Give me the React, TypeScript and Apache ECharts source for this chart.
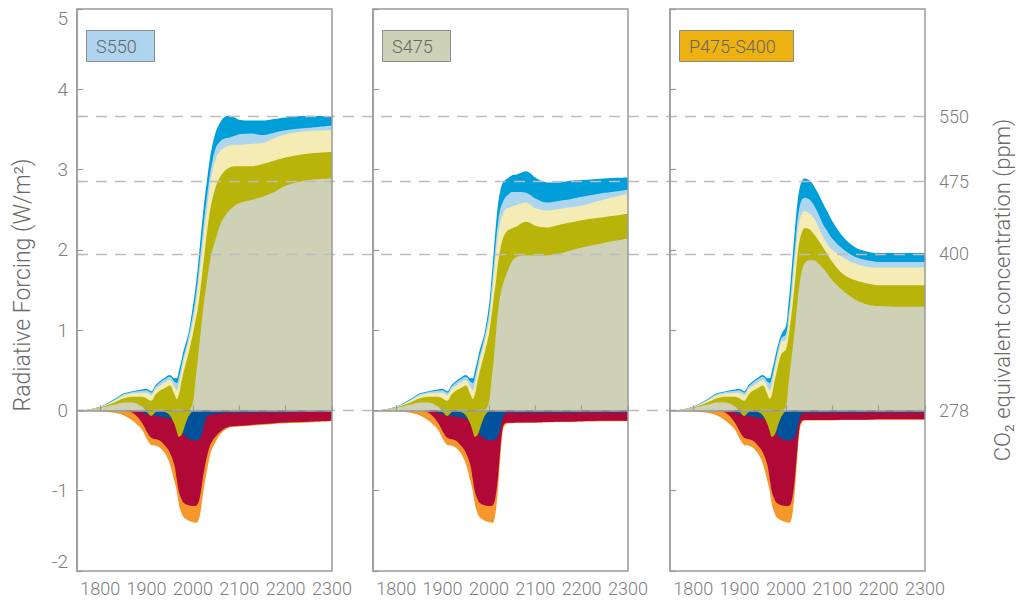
import React, { useEffect, useRef } from "react";
import * as echarts from "echarts";

// ---------- DATA ----------
const histYears = [1765, 1800, 1830, 1850, 1870, 1890, 1900, 1910, 1920, 1930, 1940, 1950, 1960, 1965, 1970, 1975, 1980, 1990];
const futureYears = [2000, 2005, 2010, 2015, 2020, 2025, 2030, 2035, 2040, 2050, 2060, 2070, 2080, 2090, 2100, 2125, 2150, 2175, 2200, 2250, 2300];

// shared historical layers (cumulative tops, W/m2)
const histBlue = [0, 0.05, 0.14, 0.21, 0.24, 0.26, 0.27, 0.24, 0.32, 0.37, 0.41, 0.44, 0.40, 0.40, 0.50, 0.62, 0.75, 0.95];
const histLightBlue = [0, 0.045, 0.13, 0.2, 0.23, 0.245, 0.25, 0.22, 0.3, 0.35, 0.39, 0.42, 0.36, 0.34, 0.42, 0.55, 0.68, 0.9];
const histYellow = [0, 0.04, 0.12, 0.18, 0.21, 0.22, 0.22, 0.19, 0.27, 0.31, 0.35, 0.38, 0.3, 0.25, 0.34, 0.48, 0.62, 0.85];
const histOlive = [0, 0.035, 0.1, 0.15, 0.17, 0.17, 0.15, 0.12, 0.2, 0.25, 0.28, 0.31, 0.2, 0.14, 0.2, 0.35, 0.48, 0.7];
const histBeige = [0, 0.03, 0.07, 0.1, 0.1, 0.05, 0, 0, 0, 0, 0, 0, 0, 0, 0, 0, 0, 0];
const histOliveDip = [0, 0, 0, 0, 0, 0, -0.02, -0.07, -0.02, 0, -0.02, -0.06, -0.17, -0.26, -0.33, -0.31, -0.24, -0.08];
const histDarkBlue = [0, 0, 0, 0, 0, -0.03, -0.05, -0.06, -0.07, -0.08, -0.09, -0.1, -0.13, -0.16, -0.2, -0.25, -0.3, -0.35];
const histRed = [0, 0, 0, 0, -0.03, -0.15, -0.26, -0.34, -0.36, -0.38, -0.44, -0.52, -0.68, -0.85, -1.02, -1.1, -1.15, -1.18];
const histOrange = [0, -0.01, -0.03, -0.06, -0.13, -0.24, -0.35, -0.43, -0.44, -0.47, -0.54, -0.66, -0.88, -1.0, -1.18, -1.27, -1.33, -1.37];

// S550
const s550Blue = [1.3, 1.5, 1.75, 2.05, 2.35, 2.62, 2.85, 3.07, 3.25, 3.48, 3.6, 3.66, 3.67, 3.65, 3.62, 3.61, 3.61, 3.63, 3.65, 3.67, 3.66];
const s550LightBlue = [1.2, 1.38, 1.6, 1.88, 2.15, 2.42, 2.65, 2.87, 3.05, 3.28, 3.36, 3.39, 3.4, 3.42, 3.44, 3.45, 3.43, 3.46, 3.49, 3.52, 3.55];
const s550Yellow = [1.1, 1.28, 1.5, 1.75, 2.0, 2.27, 2.5, 2.72, 2.92, 3.15, 3.24, 3.28, 3.3, 3.31, 3.31, 3.32, 3.33, 3.39, 3.44, 3.48, 3.49];
const s550Olive = [0.95, 1.1, 1.25, 1.45, 1.7, 1.95, 2.2, 2.42, 2.58, 2.8, 2.92, 2.99, 3.03, 3.04, 3.04, 3.04, 3.07, 3.11, 3.15, 3.2, 3.22];
const s550Beige = [0.1, 0.35, 0.6, 0.88, 1.15, 1.4, 1.6, 1.8, 1.95, 2.15, 2.33, 2.43, 2.5, 2.55, 2.58, 2.62, 2.66, 2.72, 2.8, 2.87, 2.89];
const s550DarkBlue = [-0.37, -0.37, -0.37, -0.35, -0.28, -0.16, -0.08, -0.06, -0.05, -0.04, -0.035, -0.03, -0.03, -0.03, -0.03, -0.03, -0.025, -0.025, -0.025, -0.02, -0.02];
const s550Red = [-1.19, -1.19, -1.17, -1.08, -0.9, -0.72, -0.58, -0.47, -0.4, -0.32, -0.26, -0.22, -0.2, -0.195, -0.19, -0.18, -0.17, -0.16, -0.15, -0.14, -0.13];
const s550Orange = [-1.39, -1.4, -1.39, -1.31, -1.12, -0.92, -0.76, -0.61, -0.5, -0.38, -0.29, -0.24, -0.21, -0.205, -0.2, -0.19, -0.18, -0.17, -0.16, -0.15, -0.135];

// S475
const s475Blue = [1.3, 1.6, 1.95, 2.3, 2.58, 2.75, 2.84, 2.87, 2.89, 2.93, 2.94, 2.96, 2.98, 2.95, 2.9, 2.84, 2.84, 2.86, 2.87, 2.89, 2.9];
const s475LightBlue = [1.2, 1.47, 1.78, 2.1, 2.36, 2.52, 2.6, 2.65, 2.68, 2.72, 2.72, 2.72, 2.71, 2.68, 2.64, 2.59, 2.61, 2.63, 2.66, 2.71, 2.75];
const s475Yellow = [1.1, 1.36, 1.65, 1.95, 2.2, 2.36, 2.45, 2.5, 2.52, 2.54, 2.56, 2.58, 2.59, 2.56, 2.52, 2.49, 2.51, 2.53, 2.55, 2.63, 2.7];
const s475Olive = [0.95, 1.15, 1.38, 1.6, 1.85, 2.02, 2.14, 2.2, 2.24, 2.27, 2.29, 2.33, 2.35, 2.33, 2.3, 2.28, 2.31, 2.34, 2.37, 2.41, 2.45];
const s475Beige = [0.1, 0.35, 0.6, 0.95, 1.25, 1.45, 1.57, 1.65, 1.73, 1.86, 1.91, 1.93, 1.93, 1.93, 1.93, 1.93, 1.95, 1.99, 2.03, 2.09, 2.14];
const s475DarkBlue = [-0.37, -0.37, -0.37, -0.36, -0.32, -0.22, -0.09, -0.04, -0.03, -0.03, -0.03, -0.03, -0.03, -0.03, -0.03, -0.03, -0.03, -0.03, -0.025, -0.025, -0.025];
const s475Red = [-1.19, -1.19, -1.17, -1.05, -0.8, -0.46, -0.21, -0.16, -0.155, -0.155, -0.15, -0.15, -0.15, -0.15, -0.15, -0.145, -0.14, -0.14, -0.135, -0.13, -0.13];
const s475Orange = [-1.39, -1.4, -1.39, -1.25, -0.95, -0.56, -0.25, -0.18, -0.165, -0.16, -0.158, -0.156, -0.155, -0.155, -0.155, -0.15, -0.145, -0.145, -0.14, -0.135, -0.135];

// P475-S400
const p475Blue = [1.05, 1.3, 1.6, 1.95, 2.3, 2.6, 2.78, 2.86, 2.89, 2.87, 2.8, 2.7, 2.58, 2.47, 2.36, 2.15, 2.03, 1.98, 1.96, 1.96, 1.96];
const p475LightBlue = [0.95, 1.16, 1.42, 1.75, 2.07, 2.37, 2.55, 2.63, 2.65, 2.63, 2.56, 2.45, 2.32, 2.23, 2.14, 2.0, 1.91, 1.87, 1.85, 1.85, 1.85];
const p475Yellow = [0.88, 1.06, 1.3, 1.6, 1.92, 2.2, 2.38, 2.46, 2.48, 2.46, 2.4, 2.29, 2.16, 2.07, 2.0, 1.9, 1.83, 1.79, 1.78, 1.78, 1.78];
const p475Olive = [0.76, 0.9, 1.1, 1.35, 1.63, 1.93, 2.13, 2.23, 2.27, 2.26, 2.2, 2.12, 2.03, 1.94, 1.85, 1.69, 1.62, 1.58, 1.56, 1.56, 1.56];
const p475Beige = [0.05, 0.3, 0.55, 0.8, 1.05, 1.35, 1.6, 1.75, 1.83, 1.87, 1.87, 1.83, 1.77, 1.7, 1.62, 1.48, 1.38, 1.32, 1.3, 1.29, 1.29];
const p475DarkBlue = [-0.37, -0.37, -0.37, -0.36, -0.32, -0.22, -0.09, -0.04, -0.03, -0.03, -0.03, -0.03, -0.03, -0.03, -0.03, -0.03, -0.03, -0.025, -0.025, -0.025, -0.025];
const p475Red = [-1.19, -1.19, -1.17, -1.05, -0.8, -0.46, -0.19, -0.13, -0.12, -0.12, -0.12, -0.12, -0.12, -0.12, -0.12, -0.115, -0.115, -0.115, -0.11, -0.11, -0.11];
const p475Orange = [-1.39, -1.4, -1.39, -1.25, -0.95, -0.56, -0.23, -0.145, -0.13, -0.125, -0.125, -0.125, -0.125, -0.125, -0.125, -0.12, -0.12, -0.12, -0.115, -0.115, -0.115];

const scenarioNames = ["S550", "S475", "P475-S400"];
const scenarioBoxColors = ["#aed4f0", "#cdd1b6", "#eeb112"];

const xTicks = [1800, 1900, 2000, 2100, 2200, 2300];
const ppmLabels = ["278", "400", "475", "550"];
const ppmForcing = [0, 1.95, 2.85, 3.66];

// ---------- STYLE ----------
const FONT = "Roboto, 'Helvetica Neue', Arial, sans-serif";
const C = {
  blue: "#009fda",
  lightBlue: "#acd5ef",
  yellow: "#f5ebb5",
  olive: "#b8b409",
  beige: "#ced1b5",
  orange: "#f5972a",
  red: "#b00938",
  darkBlue: "#00529b",
  frame: "#9b9b9b",
  text: "#7d7d7d",
};

const pairs = (hist: number[], fut: number[] | null) => {
  const h = histYears.map((y, i) => [y, hist[i]]);
  if (!fut) return h.concat([[2000, 0]]);
  return h.concat(futureYears.map((y, i) => [y, fut[i]]));
};

const scenarios = [
  { blue: s550Blue, lightBlue: s550LightBlue, yellow: s550Yellow, olive: s550Olive, beige: s550Beige, darkBlue: s550DarkBlue, red: s550Red, orange: s550Orange },
  { blue: s475Blue, lightBlue: s475LightBlue, yellow: s475Yellow, olive: s475Olive, beige: s475Beige, darkBlue: s475DarkBlue, red: s475Red, orange: s475Orange },
  { blue: p475Blue, lightBlue: p475LightBlue, yellow: p475Yellow, olive: p475Olive, beige: p475Beige, darkBlue: p475DarkBlue, red: p475Red, orange: p475Orange },
];

const gridLefts = [77, 373, 670];
const GRID_W = 255;
const GRID_TOP = 9;
const GRID_H = 562;

function areaSeries(gi: number, data: number[][], color: string) {
  return {
    type: "line",
    xAxisIndex: gi,
    yAxisIndex: gi,
    data,
    smooth: 0.35,
    symbol: "none",
    showSymbol: false,
    silent: true,
    z: 2,
    lineStyle: { width: 0, opacity: 0 },
    areaStyle: { color, opacity: 1 },
  };
}

function buildOption() {
  const series: any[] = [];
  scenarios.forEach((s, gi) => {
    series.push(areaSeries(gi, pairs(histBlue, s.blue), C.blue));
    series.push(areaSeries(gi, pairs(histLightBlue, s.lightBlue), C.lightBlue));
    series.push(areaSeries(gi, pairs(histYellow, s.yellow), C.yellow));
    series.push(areaSeries(gi, pairs(histOlive, s.olive), C.olive));
    series.push(areaSeries(gi, pairs(histBeige, s.beige), C.beige));
    series.push(areaSeries(gi, pairs(histOrange, s.orange), C.orange));
    series.push(areaSeries(gi, pairs(histRed, s.red), C.red));
    series.push(areaSeries(gi, pairs(histDarkBlue, s.darkBlue), C.darkBlue));
    series.push(areaSeries(gi, pairs(histOliveDip, null), C.olive));
  });
  // dashed CO2-eq reference lines across all panels
  series.push({
    type: "line",
    xAxisIndex: 3,
    yAxisIndex: 3,
    data: [],
    z: 1,
    silent: true,
    markLine: {
      silent: true,
      symbol: ["none", "none"],
      label: { show: false },
      lineStyle: { color: "#bdbdbd", type: [11, 8], width: 1.4 },
      data: ppmForcing.map((v) => ({ yAxis: v })),
    },
  });

  const grids: any[] = gridLefts.map((l) => ({
    left: l,
    top: GRID_TOP,
    width: GRID_W,
    height: GRID_H,
    show: true,
    borderColor: C.frame,
    borderWidth: 1.5,
    backgroundColor: "transparent",
    containLabel: false,
    outerBoundsMode: "none",
    z: 10,
  }));
  grids.push({
    left: gridLefts[0],
    top: GRID_TOP,
    width: gridLefts[2] + GRID_W - gridLefts[0],
    height: GRID_H,
    show: false,
    containLabel: false,
    outerBoundsMode: "none",
  });

  const xAxes: any[] = gridLefts.map((_, i) => ({
    gridIndex: i,
    type: "value",
    min: 1750,
    max: 2300,
    z: 11,
    axisLine: { show: true, lineStyle: { color: C.frame, width: 1.5 } },
    axisTick: { show: true, inside: true, length: 5, customValues: xTicks, lineStyle: { color: C.frame, width: 1.2 } },
    axisLabel: {
      customValues: xTicks,
      color: C.text,
      fontSize: 18,
      margin: 8,
      fontFamily: FONT,
      fontWeight: 300,
      formatter: (v: number) => String(v),
    },
    splitLine: { show: false },
  }));
  xAxes.push({ gridIndex: 3, type: "value", min: 0, max: 1, show: false });

  const yAxes: any[] = gridLefts.map((_, i) => ({
    gridIndex: i,
    type: "value",
    min: -2,
    max: 5,
    interval: 1,
    z: 11,
    axisLine: { show: true, lineStyle: { color: C.frame, width: 1.5 } },
    axisTick: { show: true, inside: true, length: 6, lineStyle: { color: C.frame, width: 1.2 } },
    axisLabel: {
      show: i === 0,
      color: C.text,
      fontSize: 19,
      margin: 9,
      fontFamily: FONT,
      fontWeight: 300,
      verticalAlignMaxLabel: "top",
      verticalAlignMinLabel: "bottom",
    },
    splitLine: { show: false },
    name: i === 0 ? "Radiative Forcing (W/m²)" : "",
    nameLocation: "middle",
    nameGap: 43,
    nameTextStyle: { fontSize: 23, color: "#6a6a6a", fontFamily: FONT, fontWeight: 300, padding: [0, 0, 0, 10] },
  }));
  yAxes.push({
    gridIndex: 3,
    type: "value",
    position: "right",
    min: -2,
    max: 5,
    axisLine: { show: false },
    axisTick: { show: true, inside: false, length: 7, customValues: ppmForcing, lineStyle: { color: C.frame, width: 1.2 } },
    axisLabel: {
      customValues: ppmForcing,
      color: C.text,
      fontSize: 18,
      margin: 14,
      fontFamily: FONT,
      fontWeight: 300,
      formatter: (v: number) => {
        const k = ppmForcing.findIndex((f) => Math.abs(f - v) < 1e-6);
        return k >= 0 ? ppmLabels[k] : "";
      },
    },
    splitLine: { show: false },
    name: "CO₂ equivalent concentration (ppm)",
    nameLocation: "middle",
    nameRotate: 90,
    nameGap: 66,
    nameTextStyle: { fontSize: 22, color: "#6a6a6a", fontFamily: FONT, fontWeight: 300 },
  });

  const titles = scenarioNames.map((n, i) => ({
    text: n,
    left: gridLefts[i] + 9,
    top: 30,
    padding: [7, 18, 7, 10],
    backgroundColor: scenarioBoxColors[i],
    borderColor: "#8c8c8c",
    borderWidth: 1,
    textStyle: { fontSize: 18, fontWeight: 300, color: "#666", fontFamily: FONT, lineHeight: 18 },
  }));

  return {
    animation: false,
    backgroundColor: "#ffffff",
    textStyle: { fontFamily: FONT },
    title: titles,
    grid: grids,
    xAxis: xAxes,
    yAxis: yAxes,
    series,
  };
}

export default function App() {
  const ref = useRef<HTMLDivElement>(null);
  useEffect(() => {
    if (!ref.current) return;
    const chart = echarts.init(ref.current, null, { renderer: "svg" });
    chart.setOption(buildOption() as any);
    return () => chart.dispose();
  }, []);
  return <div ref={ref} style={{ position: "absolute", left: 0, top: 0, width: 1018, height: 600 }} />;
}
